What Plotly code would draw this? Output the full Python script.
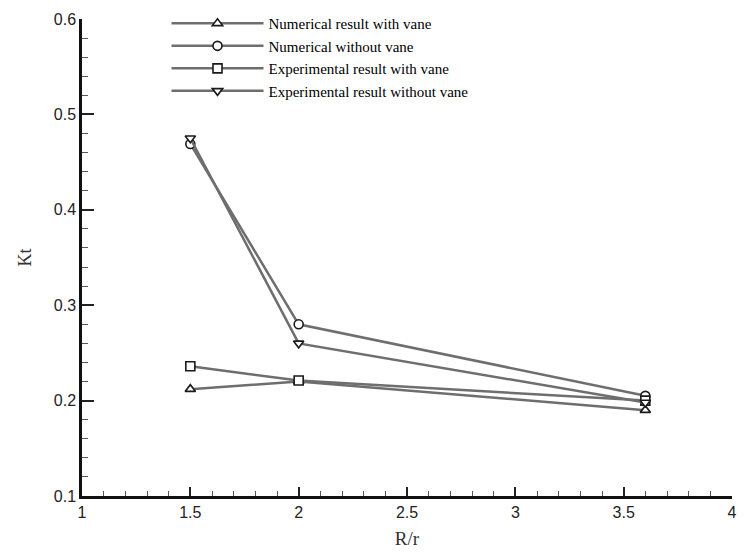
import plotly.graph_objects as go

x_vals = [1.5, 2.0, 3.6]
num_with_vane = [0.212, 0.220, 0.190]
num_without_vane = [0.469, 0.280, 0.205]
exp_with_vane = [0.236, 0.221, 0.200]
exp_without_vane = [0.475, 0.260, 0.198]

series = [
    ("Numerical result with vane", num_with_vane, "triangle-up"),
    ("Numerical without vane", num_without_vane, "circle"),
    ("Experimental result with vane", exp_with_vane, "square"),
    ("Experimental result without vane", exp_without_vane, "triangle-down"),
]

fig = go.Figure()
for name, ys, sym in series:
    fig.add_trace(go.Scatter(
        x=x_vals, y=ys, name=name, mode="lines+markers",
        line=dict(color="#6e6e6e", width=2.5),
        marker=dict(symbol=sym, size=9, color="white",
                    line=dict(color="#1a1a1a", width=1.6)),
    ))

fig.update_layout(
    width=744, height=556,
    margin=dict(l=82, r=7, t=15, b=60),
    plot_bgcolor="white", paper_bgcolor="white",
    showlegend=True,
    legend=dict(
        x=0.13, y=1.025, xanchor="left", yanchor="top",
        bgcolor="rgba(0,0,0,0)", itemwidth=92,
        font=dict(family="Liberation Serif", size=15, color="#000"),
        tracegroupgap=0,
    ),
)
fig.update_xaxes(
    range=[1, 4], tickvals=[1, 1.5, 2, 2.5, 3, 3.5, 4],
    ticktext=["1", "1.5", "2", "2.5", "3", "3.5", "4"],
    ticks="inside", ticklen=9, tickwidth=1.8, tickcolor="#222",
    minor=dict(dtick=0.1, ticks="inside", ticklen=5, tickcolor="#555", tickwidth=1.2),
    showline=True, linecolor="#111", linewidth=2.5, mirror=False,
    showgrid=False, zeroline=False,
    tickfont=dict(family="Liberation Sans", size=16, color="#222"),
    title=dict(text="R/r", font=dict(family="Liberation Serif", size=19, color="#333"), standoff=12),
)
fig.update_yaxes(
    range=[0.1, 0.6], tickvals=[0.1, 0.2, 0.3, 0.4, 0.5, 0.6],
    ticktext=["0.1", "0.2", "0.3", "0.4", "0.5", "0.6"],
    ticks="inside", ticklen=12, tickwidth=1.8, tickcolor="#222",
    minor=dict(dtick=0.02, ticks="inside", ticklen=6, tickcolor="#555", tickwidth=1.2),
    showline=True, linecolor="#111", linewidth=2.5, mirror=False,
    showgrid=False, zeroline=False,
    tickfont=dict(family="Liberation Sans", size=16, color="#222"),
    title=dict(text="Kt", font=dict(family="Liberation Serif", size=18, color="#333"), standoff=18),
)

fig.write_html("out.html")
